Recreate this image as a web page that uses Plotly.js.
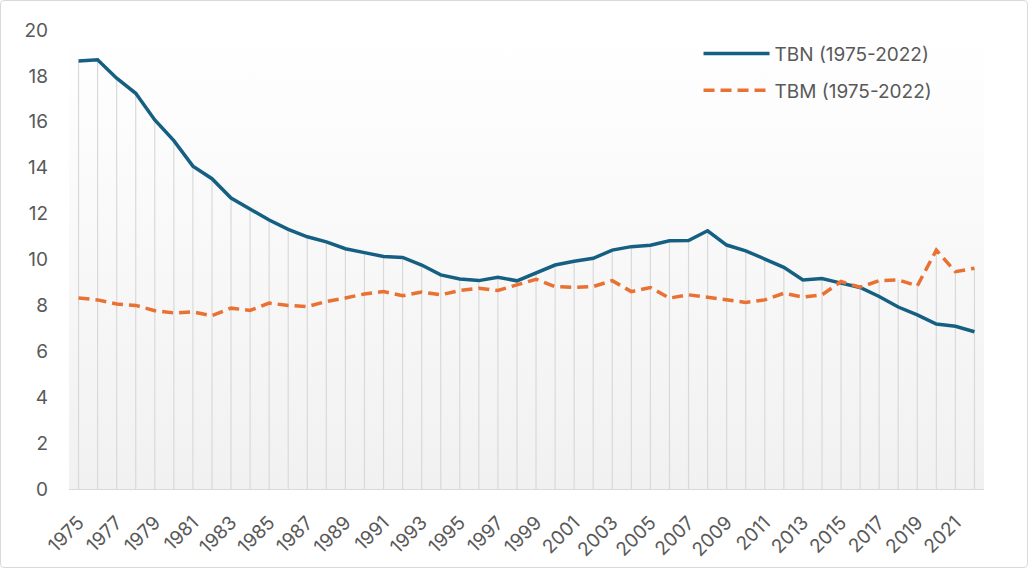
<!DOCTYPE html>
<html>
<head>
<meta charset="utf-8">
<script src="https://cdn.plot.ly/plotly-3.0.1.min.js"></script>
<style>
  html, body { margin: 0; padding: 0; background: #ffffff; }
  #wrap { position: relative; width: 1028px; height: 568px; }
  #bg { position: absolute; background: linear-gradient(to bottom, #ffffff 0%, #f1f1f1 100%); }
  #chart { position: absolute; left: 0; top: 0; width: 1028px; height: 568px; }
  #frame {
    position: absolute; left: 0; top: 0; width: 1026px; height: 566px;
    border: 1px solid #d9d9d9; border-radius: 4px; pointer-events: none;
  }
</style>
</head>
<body>
<div id="wrap">
  <div id="bg"></div>
  <div id="chart"></div>
  <div id="frame"></div>
</div>
<script>
  const years = [];
  for (let y = 1975; y <= 2022; y++) years.push(y);

  const tbn = [
    18.65, 18.7, 17.9, 17.24, 16.08, 15.18, 14.07, 13.52, 12.68, 12.19,
    11.72, 11.31, 10.99, 10.77, 10.47, 10.3, 10.13, 10.09, 9.76, 9.33,
    9.15, 9.08, 9.23, 9.07, 9.4, 9.76, 9.92, 10.05, 10.41, 10.56,
    10.62, 10.82, 10.83, 11.25, 10.63, 10.38, 10.02, 9.66, 9.11, 9.17,
    8.97, 8.78, 8.39, 7.93, 7.59, 7.19, 7.09, 6.85,
  ];

  const tbm = [
    8.32, 8.24, 8.06, 8.0, 7.77, 7.67, 7.72, 7.55, 7.88, 7.78,
    8.1, 8.0, 7.95, 8.17, 8.32, 8.5, 8.6, 8.42, 8.58, 8.46,
    8.65, 8.75, 8.65, 8.89, 9.14, 8.82, 8.78, 8.82, 9.08, 8.6,
    8.78, 8.32, 8.46, 8.36, 8.24, 8.13, 8.24, 8.53, 8.36, 8.46,
    9.04, 8.79, 9.08, 9.11, 8.85, 10.41, 9.47, 9.62,
  ];

  const tickYears = years.filter((y) => (y - 1975) % 2 === 0);

  // drop lines from the higher of the two series down to zero
  const dropX = [];
  const dropY = [];
  years.forEach((year, i) => {
    dropX.push(year, year, null);
    dropY.push(0, Math.max(tbn[i], tbm[i]), null);
  });

  const FONT = 'Inter, "Liberation Sans", sans-serif';
  const TEXT = '#595959';
  const SIZE = 19;

  const traces = [
    {
      x: dropX,
      y: dropY,
      type: 'scatter',
      mode: 'lines',
      line: { color: '#d9d9d9', width: 1.2 },
      showlegend: false,
      hoverinfo: 'skip',
    },
    {
      name: 'TBN (1975-2022)',
      x: years,
      y: tbn,
      type: 'scatter',
      mode: 'lines',
      line: { color: '#156082', width: 3.5 },
      legendgroup: 'a',
    },
    {
      name: 'TBM (1975-2022)',
      x: years,
      y: tbm,
      type: 'scatter',
      mode: 'lines',
      line: { color: '#E97132', width: 3.5, dash: '11px,6px' },
      legendgroup: 'b',
    },
  ];

  const layout = {
    width: 1028,
    height: 568,
    margin: { l: 68.5, r: 43.5, t: 29.5, b: 78.5 },
    paper_bgcolor: 'rgba(0,0,0,0)',
    plot_bgcolor: 'rgba(0,0,0,0)',
    font: { family: FONT, size: SIZE, color: TEXT },
    showlegend: true,
    legend: {
      x: 0.688,
      y: 0.99,
      xanchor: 'left',
      yanchor: 'top',
      bgcolor: 'rgba(0,0,0,0)',
      traceorder: 'grouped',
      tracegroupgap: 9,
      itemwidth: 66,
      font: { family: FONT, size: SIZE, color: TEXT },
    },
    xaxis: {
      range: [1974.5, 2022.5],
      tickmode: 'array',
      tickvals: tickYears,
      ticktext: tickYears.map(String),
      tickangle: -45,
      ticks: '',
      showgrid: false,
      zeroline: false,
      showline: true,
      linecolor: '#d9d9d9',
      linewidth: 1,
      ticklabelstandoff: 14,
      tickfont: { family: FONT, size: SIZE, color: TEXT },
      fixedrange: true,
    },
    yaxis: {
      range: [0, 20],
      dtick: 2,
      ticks: '',
      showgrid: false,
      zeroline: false,
      showline: false,
      ticklabelstandoff: 20,
      tickfont: { family: FONT, size: SIZE, color: TEXT },
      fixedrange: true,
    },
  };

  const chart = document.getElementById('chart');
  Plotly.newPlot(chart, traces, layout, { displayModeBar: false, staticPlot: true }).then(() => {
    const s = chart._fullLayout._size;
    const bg = document.getElementById('bg');
    bg.style.left = s.l + 'px';
    bg.style.top = s.t + 'px';
    bg.style.width = s.w + 'px';
    bg.style.height = s.h + 'px';
  });
</script>
</body>
</html>
